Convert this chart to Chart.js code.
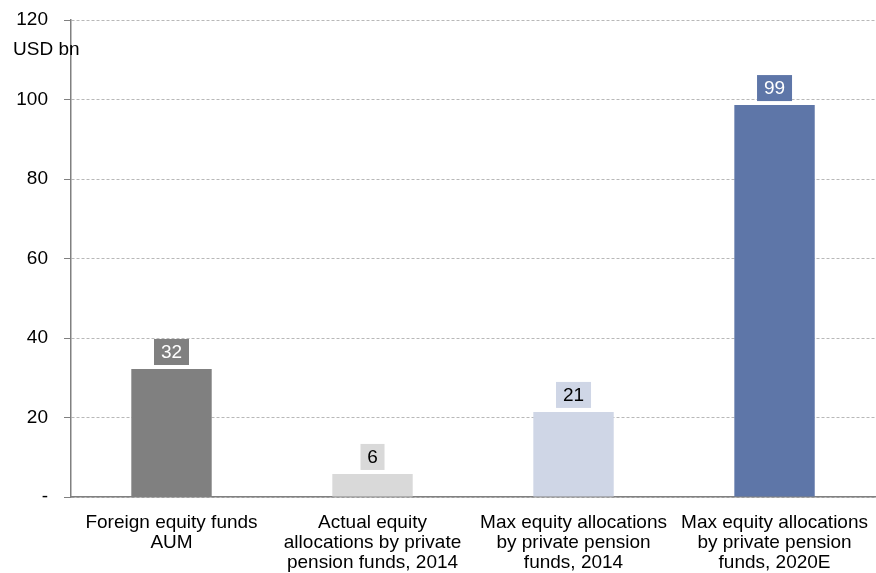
<!DOCTYPE html>
<html>
<head>
<meta charset="utf-8">
<script src="https://cdn.jsdelivr.net/npm/chart.js@4.4.0/dist/chart.umd.min.js"></script>
<style>
  html, body { margin: 0; padding: 0; background: #fff; }
  #wrap { width: 876px; height: 573px; position: relative; }
</style>
</head>
<body>
<div id="wrap"><canvas id="myChart"></canvas></div>
<script>
// chart data
const categories = [
  ["Foreign equity funds", "AUM"],
  ["Actual equity", "allocations by private", "pension funds, 2014"],
  ["Max equity allocations", "by private pension", "funds, 2014"],
  ["Max equity allocations", "by private pension", "funds, 2020E"]
];
const values = [32.2, 5.8, 21.4, 98.6];
const valueLabels = ["32", "6", "21", "99"];
const barColors = ["#808080", "#d9d9d9", "#cfd6e6", "#5e76a8"];
const labelTextColors = ["#ffffff", "#000000", "#000000", "#ffffff"];
const yTicks = [0, 20, 40, 60, 80, 100, 120];

const FONT = "'Liberation Sans', Arial, sans-serif";

// boxes with the value above each bar
const valueBoxes = {
  id: "valueBoxes",
  afterDatasetsDraw(chart) {
    const ctx = chart.ctx;
    const meta = chart.getDatasetMeta(0);
    ctx.save();
    ctx.font = "19px " + FONT;
    ctx.textAlign = "center";
    ctx.textBaseline = "middle";
    meta.data.forEach((bar, i) => {
      const w = valueLabels[i].length > 1 ? 35 : 24;
      const h = 26;
      const x = bar.x - w / 2;
      const y = bar.y - 4 - h;
      ctx.fillStyle = barColors[i];
      ctx.fillRect(x, y, w, h);
      ctx.fillStyle = labelTextColors[i];
      ctx.fillText(valueLabels[i], bar.x, y + h / 2 + 1);
    });
    ctx.restore();
  }
};

// unit label under the top tick
const unitLabel = {
  id: "unitLabel",
  afterDraw(chart) {
    const ctx = chart.ctx;
    ctx.save();
    ctx.font = "19px " + FONT;
    ctx.fillStyle = "#000";
    ctx.textAlign = "left";
    ctx.textBaseline = "middle";
    ctx.fillText("USD bn", 13, 50);
    ctx.restore();
  }
};

new Chart(document.getElementById("myChart"), {
  type: "bar",
  data: {
    labels: categories,
    datasets: [{
      data: values,
      backgroundColor: barColors,
      barPercentage: 0.4,
      categoryPercentage: 1.0
    }]
  },
  options: {
    responsive: true,
    maintainAspectRatio: false,
    animation: false,
    layout: { padding: { top: 20, right: 0, bottom: 0, left: 0 } },
    plugins: {
      legend: { display: false },
      tooltip: { enabled: false }
    },
    scales: {
      x: {
        grid: { display: false },
        border: { display: true, color: "#808080", width: 1.5 },
        ticks: {
          color: "#000",
          font: { family: FONT, size: 19, lineHeight: 1.05 },
          maxRotation: 0,
          autoSkip: false,
          padding: 8
        },
        afterFit(scale) { scale.height = 76; }
      },
      y: {
        min: 0,
        max: 120,
        afterBuildTicks(scale) { scale.ticks = yTicks.map(v => ({ value: v })); },
        grid: {
          color: "#b8b8b8",
          tickLength: 7,
          tickColor: "#808080",
          tickBorderDash: []
        },
        border: { display: true, color: "#808080", width: 1.5, dash: [3, 2] },
        ticks: {
          color: "#000",
          font: { family: FONT, size: 19 },
          padding: 16,
          callback: (v) => v === 0 ? "-" : v
        },
        afterFit(scale) {
          scale.width = 71;
          scale.paddingTop = 0;
          scale.paddingBottom = 0;
        }
      }
    }
  },
  plugins: [valueBoxes, unitLabel]
});
</script>
</body>
</html>
